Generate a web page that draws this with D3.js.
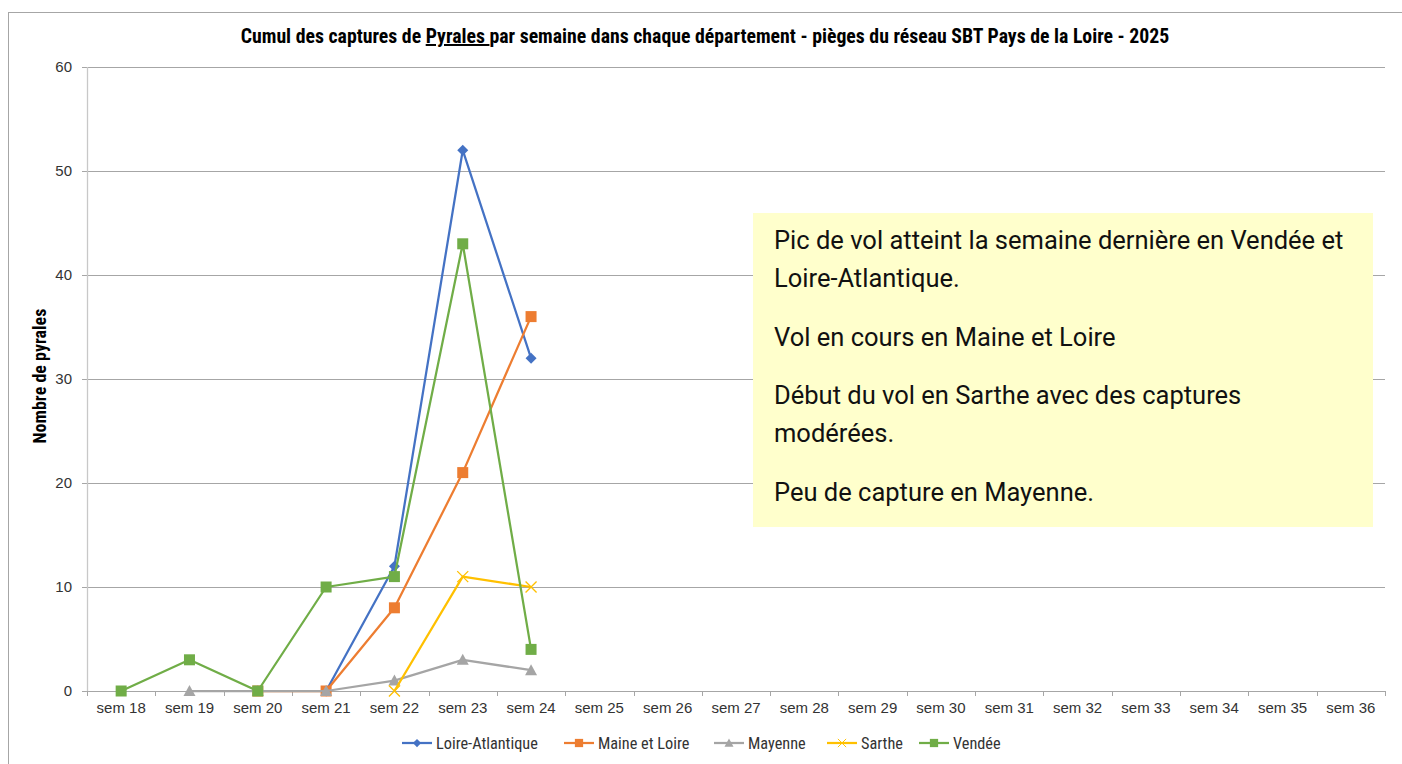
<!DOCTYPE html>
<html>
<head>
<meta charset="utf-8">
<script src="https://cdn.jsdelivr.net/npm/d3@7"></script>
<style>
  body { margin: 0; background: #fff; }
  svg { display: block; }
</style>
</head>
<body>
<svg id="chart" width="1402" height="764"></svg>
<script>
const weeks = ["sem 18", "sem 19", "sem 20", "sem 21", "sem 22", "sem 23", "sem 24", "sem 25", "sem 26",
  "sem 27", "sem 28", "sem 29", "sem 30", "sem 31", "sem 32", "sem 33", "sem 34", "sem 35", "sem 36"];

// one value per week, null = no capture recorded
const loireAtlantique = [null, null, null, 0, 12, 52, 32];
const maineEtLoire = [null, null, 0, 0, 8, 21, 36];
const mayenne = [null, 0, 0, 0, 1, 3, 2];
const sarthe = [null, null, null, null, 0, 11, 10];
const vendee = [0, 3, 0, 10, 11, 43, 4];

const yTicks = [0, 10, 20, 30, 40, 50, 60];

const notes = [
  ["Pic de vol atteint la semaine dernière en Vendée et", "Loire-Atlantique."],
  ["Vol en cours en Maine et Loire"],
  ["Début du vol en Sarthe avec des captures", "modérées."],
  ["Peu de capture en Mayenne."]
];

const series = [
  { name: "Loire-Atlantique", values: loireAtlantique, color: "#4472C4", marker: "diamond" },
  { name: "Maine et Loire", values: maineEtLoire, color: "#ED7D31", marker: "square" },
  { name: "Mayenne", values: mayenne, color: "#A5A5A5", marker: "triangle" },
  { name: "Sarthe", values: sarthe, color: "#FFC000", marker: "x" },
  { name: "Vendée", values: vendee, color: "#70AD47", marker: "square" }
];

const svg = d3.select("#chart");
const narrow = "'Liberation Sans Narrow', 'Arial Narrow', 'Roboto Condensed', sans-serif";
const plain = "'Liberation Sans', Arial, sans-serif";

// chart frame
svg.append("rect")
  .attr("x", 8.5).attr("y", 12.5)
  .attr("width", 1420).attr("height", 780)
  .attr("fill", "#fff")
  .attr("stroke", "#a6a6a6");

const margin = { left: 87, right: 1385, top: 67, bottom: 691 };

const x = d3.scaleBand()
  .domain(weeks)
  .range([margin.left, margin.right]);

const y = d3.scaleLinear()
  .domain([0, 60])
  .range([margin.bottom, margin.top]);

// gridlines
svg.append("g")
  .selectAll("line")
  .data(yTicks)
  .enter()
  .append("line")
  .attr("x1", margin.left - 5)
  .attr("x2", margin.right)
  .attr("y1", d => Math.round(y(d)) + 0.5)
  .attr("y2", d => Math.round(y(d)) + 0.5)
  .attr("stroke", "#a6a6a6")
  .attr("stroke-width", 1);

// y axis line
svg.append("line")
  .attr("x1", margin.left + 0.5).attr("x2", margin.left + 0.5)
  .attr("y1", margin.top).attr("y2", margin.bottom + 1)
  .attr("stroke", "#c8c8c8")
  .attr("stroke-width", 1.3);

// y tick labels
svg.append("g")
  .selectAll("text")
  .data(yTicks)
  .enter()
  .append("text")
  .attr("x", 72)
  .attr("y", d => y(d) + 5)
  .attr("text-anchor", "end")
  .attr("font-family", plain)
  .attr("font-size", "15px")
  .attr("fill", "#333")
  .text(d => d);

// x axis ticks + labels
const xAxis = d3.axisBottom(x).tickSize(0).tickPadding(11);
const gx = svg.append("g")
  .attr("transform", `translate(0, ${margin.bottom})`)
  .call(xAxis);
gx.select(".domain").remove();
gx.selectAll("text")
  .attr("font-family", plain)
  .attr("font-size", "15px")
  .attr("fill", "#333");

svg.append("g")
  .selectAll("line")
  .data(weeks.concat(["end"]))
  .enter()
  .append("line")
  .attr("x1", (d, i) => Math.round(margin.left + i * x.bandwidth()) + 0.5)
  .attr("x2", (d, i) => Math.round(margin.left + i * x.bandwidth()) + 0.5)
  .attr("y1", margin.bottom)
  .attr("y2", margin.bottom + 5)
  .attr("stroke", "#a6a6a6");

// y axis title
svg.append("text")
  .attr("transform", `translate(46, ${(margin.top + margin.bottom) / 2 - 3}) rotate(-90)`)
  .attr("text-anchor", "middle")
  .attr("font-family", narrow)
  .attr("font-weight", "bold")
  .attr("font-size", "18px")
  .attr("fill", "#000")
  .text("Nombre de pyrales");

// title
const title = svg.append("text")
  .attr("x", 705)
  .attr("y", 43)
  .attr("text-anchor", "middle")
  .attr("font-family", narrow)
  .attr("font-weight", "bold")
  .attr("font-size", "19.8px")
  .attr("fill", "#000");
title.append("tspan").text("Cumul des captures de ");
title.append("tspan").attr("text-decoration", "underline").text("Pyrales ");
title.append("tspan").text("par semaine dans chaque département - pièges du réseau SBT Pays de la Loire - 2025");

// lines
const cx = i => x(weeks[i]) + x.bandwidth() / 2;
const line = d3.line()
  .defined(d => d != null)
  .x((d, i) => cx(i))
  .y(d => y(d));

function drawMarker(g, type, color) {
  if (type === "diamond") {
    g.append("path").attr("d", "M0,-5.5L5.5,0L0,5.5L-5.5,0Z").attr("fill", color);
  } else if (type === "square") {
    g.append("rect").attr("x", -5.5).attr("y", -5.5).attr("width", 11).attr("height", 11).attr("fill", color);
  } else if (type === "triangle") {
    g.append("path").attr("d", "M0,-6L6,5L-6,5Z").attr("fill", color);
  } else if (type === "x") {
    g.append("path").attr("d", "M-5.5,-5.5L5.5,5.5M-5.5,5.5L5.5,-5.5").attr("stroke", color).attr("stroke-width", 1.3).attr("fill", "none");
  }
}

series.forEach(s => {
  const g = svg.append("g");
  g.append("path")
    .datum(s.values)
    .attr("d", line)
    .attr("fill", "none")
    .attr("stroke", s.color)
    .attr("stroke-width", 2.25)
    .attr("stroke-linejoin", "round");
  s.values.forEach((v, i) => {
    if (v == null) return;
    const m = g.append("g").attr("transform", `translate(${cx(i)}, ${y(v)})`);
    drawMarker(m, s.marker, s.color);
  });
});

// legend
const legendX = [402, 564, 714, 827, 919];
const legend = svg.append("g")
  .selectAll("g")
  .data(series)
  .enter()
  .append("g")
  .attr("transform", (d, i) => `translate(${legendX[i]}, 743)`);

legend.append("line")
  .attr("x1", 0).attr("x2", 30)
  .attr("stroke", d => d.color)
  .attr("stroke-width", 2.25);
legend.each(function(d) {
  const m = d3.select(this).append("g").attr("transform", "translate(15, 0) scale(0.75)");
  drawMarker(m, d.marker, d.color);
});
legend.append("text")
  .attr("x", 34)
  .attr("y", 5.5)
  .attr("font-family", narrow)
  .attr("font-size", "16.3px")
  .attr("fill", "#333")
  .text(d => d.name);

// note box
const box = svg.append("g");
box.append("rect")
  .attr("x", 753).attr("y", 213)
  .attr("width", 620).attr("height", 314)
  .attr("fill", "#ffffcc");

let lineY = 249;
const noteText = box.append("text")
  .attr("font-family", "Roboto, 'Open Sans', sans-serif")
  .attr("font-size", "25.5px")
  .attr("fill", "#111");
notes.forEach(par => {
  par.forEach(l => {
    noteText.append("tspan").attr("x", 774).attr("y", lineY).text(l);
    lineY += 38;
  });
  lineY += 20.5;
});
</script>
</body>
</html>
